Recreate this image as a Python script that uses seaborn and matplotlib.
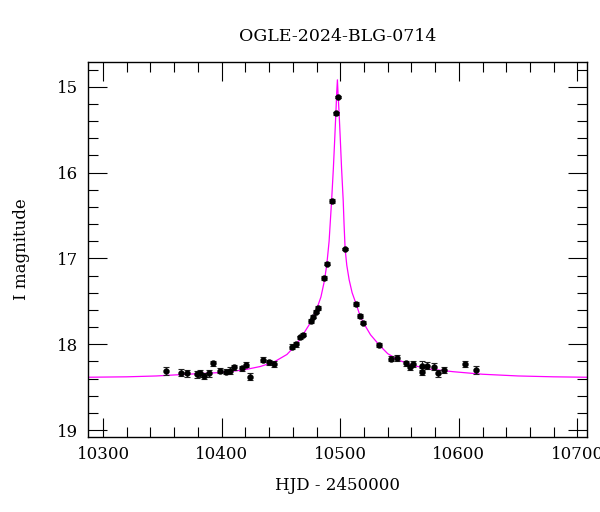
import matplotlib
matplotlib.use("Agg")
import matplotlib.pyplot as plt
from matplotlib.ticker import MultipleLocator
import seaborn as sns
import pandas as pd

# Observed photometry (HJD - 2450000, I magnitude, error)
hjd = [10353.3, 10365.7, 10370.8, 10379.2, 10382.0, 10384.8, 10389.0, 10392.7,
       10398.8, 10403.9, 10406.7, 10410.1, 10417.1, 10420.5, 10424.1, 10434.8,
       10439.6, 10443.8,
       10459.2, 10462.5, 10466.4, 10468.9, 10475.2, 10477.3, 10479.9, 10481.6,
       10486.5, 10488.5, 10492.7, 10496.3, 10498.2,
       10504.1, 10513.6, 10516.5, 10519.5, 10532.9, 10542.4, 10548.1, 10555.5,
       10558.4, 10561.2, 10568.6, 10569.3, 10573.4, 10579.3, 10582.1, 10587.3,
       10605.2, 10614.2]
mag = [18.31, 18.33, 18.34, 18.35, 18.34, 18.37, 18.34, 18.22,
       18.31, 18.32, 18.31, 18.27, 18.28, 18.24, 18.38, 18.18,
       18.21, 18.23,
       18.03, 18.00, 17.92, 17.89, 17.73, 17.68, 17.62, 17.58,
       17.23, 17.06, 16.33, 15.31, 15.12,
       16.89, 17.53, 17.67, 17.75, 18.01, 18.17, 18.16, 18.22,
       18.27, 18.23, 18.25, 18.32, 18.25, 18.26, 18.34, 18.30,
       18.23, 18.30]
err = [0.05, 0.04, 0.04, 0.04, 0.04, 0.04, 0.04, 0.03,
       0.03, 0.03, 0.04, 0.03, 0.03, 0.03, 0.04, 0.03,
       0.03, 0.03,
       0.03, 0.03, 0.02, 0.02, 0.02, 0.02, 0.02, 0.02,
       0.02, 0.02, 0.02, 0.015, 0.015,
       0.015, 0.02, 0.02, 0.02, 0.02, 0.03, 0.03, 0.03,
       0.03, 0.03, 0.05, 0.04, 0.04, 0.04, 0.04, 0.03,
       0.04, 0.05]

# Model light curve
model_hjd = [10287.0, 10320.0, 10345.0, 10371.0, 10399.0, 10418.5, 10432.5,
             10443.8, 10455.0, 10462.6, 10468.5, 10474.4, 10479.9, 10483.7,
             10486.5, 10488.6, 10490.6, 10492.7, 10494.2, 10495.3, 10496.3,
             10497.0, 10497.6, 10498.2, 10499.0, 10500.0, 10501.1, 10502.5,
             10503.2, 10504.1, 10505.5, 10507.5, 10510.0, 10513.6, 10516.5,
             10519.5, 10525.5, 10532.9, 10540.0, 10550.0, 10562.0, 10576.0,
             10595.0, 10620.0, 10650.0, 10680.0, 10708.0]
model_mag = [18.385, 18.38, 18.37, 18.35, 18.33, 18.30, 18.26,
             18.21, 18.12, 18.01, 17.89, 17.76, 17.60, 17.45,
             17.27, 17.08, 16.80, 16.33, 15.95, 15.62, 15.31,
             15.07, 14.92, 15.10, 15.30, 15.60, 15.95, 16.33,
             16.60, 16.89, 17.08, 17.25, 17.40, 17.54, 17.66,
             17.75, 17.89, 18.01, 18.11, 18.19, 18.25, 18.29,
             18.32, 18.35, 18.37, 18.38, 18.385]

title = "OGLE-2024-BLG-0714"
xlabel = "HJD - 2450000"
ylabel = "I magnitude"

sns.set_theme(style="ticks")
plt.rcParams['font.family'] = ['DejaVu Serif', 'DejaVu Sans']
plt.rcParams['axes.linewidth'] = 1.0

obs = pd.DataFrame({"hjd": hjd, "mag": mag, "err": err})
model = pd.DataFrame({"hjd": model_hjd, "mag": model_mag})

fig = plt.figure(figsize=(6.0, 5.12), dpi=100)
ax = fig.add_axes([0.146, 0.147, 0.8323, 0.7313])

sns.lineplot(data=model, x="hjd", y="mag", ax=ax, color="#ff00ff",
             linewidth=0.9, sort=False, zorder=2)
ax.errorbar(obs["hjd"], obs["mag"], yerr=obs["err"], fmt="none",
            ecolor="#222222", elinewidth=0.8, capsize=2.2, capthick=0.8, zorder=3)
sns.scatterplot(data=obs, x="hjd", y="mag", ax=ax, color="black", s=18,
                edgecolor="black", linewidth=0.3, zorder=4)

ax.set_xlim(10287, 10708)
ax.set_ylim(19.078, 14.716)
ax.xaxis.set_major_locator(MultipleLocator(100))
ax.xaxis.set_minor_locator(MultipleLocator(20))
ax.yaxis.set_major_locator(MultipleLocator(1))
ax.yaxis.set_minor_locator(MultipleLocator(0.2))

ax.tick_params(which="both", direction="in", top=True, right=True,
               color="black", width=0.8)
ax.tick_params(which="major", length=13.5)
ax.tick_params(which="minor", length=7)
ax.tick_params(axis="x", which="major", pad=7, labelsize=12, labelcolor="black")
ax.tick_params(axis="y", which="major", pad=7, labelsize=12, labelcolor="black")
for sp in ax.spines.values():
    sp.set_color("black")
    sp.set_linewidth(1.0)

ax.set_xlabel(xlabel, fontsize=12, labelpad=10, color="black")
ax.set_ylabel(ylabel, fontsize=12, labelpad=19, color="black")
ax.set_title(title, fontsize=12.5, pad=15, color="black")

fig.savefig("out.png", dpi=100)
